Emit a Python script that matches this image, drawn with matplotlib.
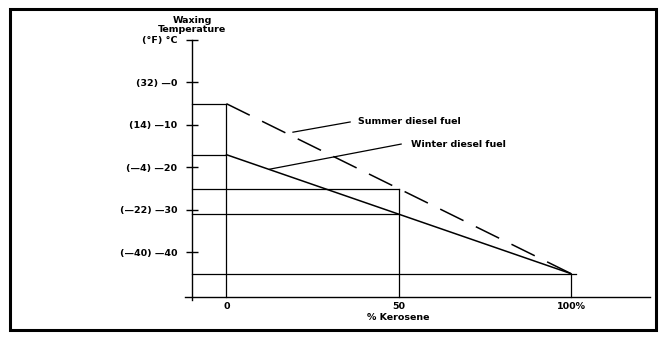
import matplotlib
matplotlib.use("Agg")
import matplotlib.pyplot as plt
from matplotlib.patches import Rectangle

# ---- data ----
kerosene_pct = [0, 50, 100]
summer_temp = [-5, -25, -45]   # waxing temperature, deg C
winter_temp = [-17, -31, -45]
y_ticks = [10, 0, -10, -20, -30, -40]
y_tick_labels = ["(°F) °C", "(32) —0", "(14) —10", "(—4) —20", "(—22) —30", "(—40) —40"]
x_tick_labels = ["0", "50", "100%"]

W, H = 666, 341
fig = plt.figure(figsize=(W / 100, H / 100), dpi=100)
plt.rcParams['font.family'] = ['DejaVu Sans']
FS = 6.8

# axes: data x -10..100 -> px 192..571 ; y -50.5..10 -> px 297..40
x0, x1, yt, yb = 192, 571, 40, 297
ax = fig.add_axes([x0 / W, 1 - yb / H, (x1 - x0) / W, (yb - yt) / H])
ax.set_xlim(-10, 100)
ax.set_ylim(-50.5, 10)
for s in ax.spines.values():
    s.set_visible(False)
ax.patch.set_visible(False)

lw = 1.0
# main axis lines
ax.plot([-10, -10], [10, -51.3], color='black', lw=lw, clip_on=False)
ax.plot([-12, 123], [-50.5, -50.5], color='black', lw=lw, clip_on=False)

# y ticks
ax.set_yticks(y_ticks)
ax.set_yticklabels(y_tick_labels, fontsize=FS, fontweight='bold')
ax.tick_params(axis='y', direction='inout', length=9, width=lw, pad=6)
ax.set_xticks(kerosene_pct)
ax.set_xticklabels(x_tick_labels, fontsize=FS, fontweight='bold')
ax.tick_params(axis='x', length=0, pad=3.5)

# reference lines: horizontal from y axis, vertical down to x axis
for xv, sv, wv in zip(kerosene_pct, summer_temp, winter_temp):
    top = max(sv, wv)
    ax.plot([xv, xv], [top, -50.5], color='black', lw=0.9, clip_on=False)
for xv, sv, wv in zip(kerosene_pct, summer_temp, winter_temp):
    xend = xv + 1.5 if xv == 100 else xv
    ax.plot([-10, xend], [sv, sv], color='black', lw=0.9, clip_on=False)
    if wv != sv:
        ax.plot([-10, xv], [wv, wv], color='black', lw=0.9, clip_on=False)

# curves
ax.plot(kerosene_pct, summer_temp, color='black', lw=1.1, dashes=(17, 9), clip_on=False)
ax.plot(kerosene_pct, winter_temp, color='black', lw=1.1, clip_on=False)

# leaders and labels
ax.plot([19.3, 35.9], [-11.7, -9.3], color='black', lw=0.9)
ax.text(38.2, -9.1, "Summer diesel fuel", fontsize=FS, fontweight='bold', va='center', ha='left')
ax.plot([12.6, 50.7], [-20.4, -14.5], color='black', lw=0.9)
ax.text(53.6, -14.7, "Winter diesel fuel", fontsize=FS, fontweight='bold', va='center', ha='left')

# titles
ax.text(-10, 14.6, "Waxing", fontsize=FS, fontweight='bold', ha='center', va='center', clip_on=False)
ax.text(-10, 12.4, "Temperature", fontsize=FS, fontweight='bold', ha='center', va='center', clip_on=False)
ax.text(50, -55.4, "% Kerosene", fontsize=FS, fontweight='bold', ha='center', va='center', clip_on=False)

# outer frame
fig.patches.append(Rectangle((10 / W, 1 - 330 / H), 646 / W, 321 / H, transform=fig.transFigure,
                             fill=False, edgecolor='black', lw=2.2))

fig.savefig("out.png", dpi=100)
